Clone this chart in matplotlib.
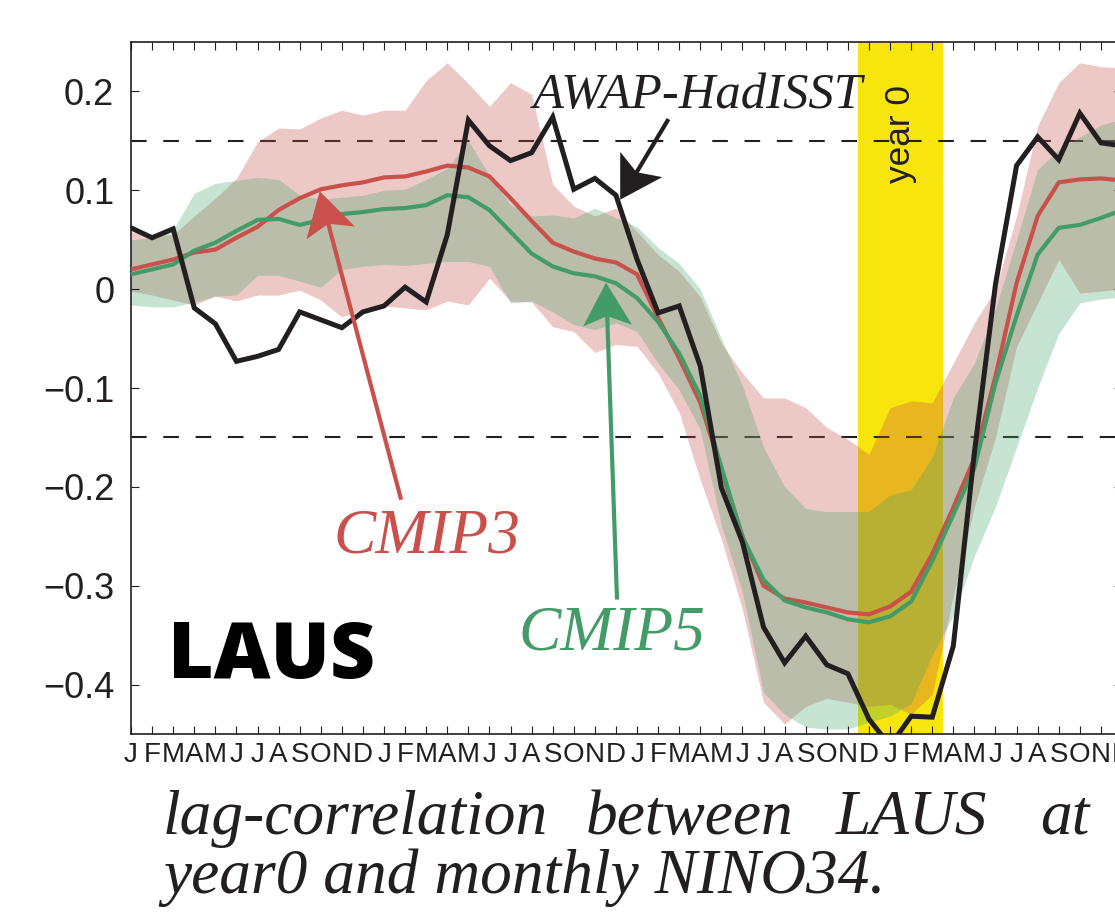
import matplotlib
matplotlib.use("Agg")
import matplotlib.pyplot as plt
from matplotlib import font_manager as fm
from matplotlib.patches import Polygon
from matplotlib.transforms import IdentityTransform
import numpy as np

# ---------------- data ----------------
month_labels = ["J", "F", "M", "A", "M", "J", "J", "A", "S", "O", "N", "D"] * 4
months = list(range(48))

awap_hadisst = [0.062, 0.052, 0.061, -0.019, -0.035, -0.073, -0.068, -0.061, -0.023, -0.031,
                -0.039, -0.023, -0.017, 0.002, -0.013, 0.055, 0.171, 0.145, 0.130, 0.138,
                0.174, 0.101, 0.112, 0.095, 0.030, -0.024, -0.017, -0.078, -0.201, -0.256,
                -0.342, -0.378, -0.351, -0.380, -0.389, -0.435, -0.462, -0.432, -0.433, -0.361,
                -0.165, 0.005, 0.125, 0.154, 0.131, 0.178, 0.148, 0.145]

cmip3_mean = [0.020, 0.025, 0.030, 0.037, 0.040, 0.052, 0.063, 0.080, 0.092, 0.101,
              0.105, 0.108, 0.113, 0.114, 0.119, 0.125, 0.123, 0.114, 0.092, 0.069,
              0.047, 0.038, 0.031, 0.027, 0.015, -0.029, -0.070, -0.115, -0.183, -0.250,
              -0.300, -0.313, -0.317, -0.322, -0.327, -0.329, -0.321, -0.306, -0.268, -0.221,
              -0.171, -0.088, 0.006, 0.074, 0.108, 0.111, 0.112, 0.110]

cmip3_high = [0.058, 0.055, 0.055, 0.074, 0.092, 0.112, 0.149, 0.163, 0.162, 0.173,
              0.181, 0.176, 0.181, 0.181, 0.211, 0.229, 0.208, 0.185, 0.209, 0.197,
              0.106, 0.084, 0.074, 0.082, 0.058, 0.035, 0.018, -0.008, -0.055, -0.085,
              -0.110, -0.110, -0.120, -0.140, -0.152, -0.167, -0.120, -0.113, -0.115, -0.075,
              -0.034, 0.000, 0.074, 0.165, 0.209, 0.229, 0.225, 0.224]

cmip3_low = [-0.002, -0.006, -0.011, -0.016, -0.007, -0.012, -0.006, -0.006, -0.001, -0.011,
             -0.028, -0.021, -0.017, -0.019, -0.021, -0.012, -0.016, 0.011, -0.012, -0.013,
             -0.038, -0.043, -0.064, -0.056, -0.058, -0.085, -0.125, -0.193, -0.253, -0.324,
             -0.418, -0.440, -0.422, -0.414, -0.418, -0.422, -0.420, -0.430, -0.410, -0.310,
             -0.220, -0.150, -0.058, -0.014, 0.030, -0.004, -0.002, 0.000]

cmip5_mean = [0.015, 0.020, 0.025, 0.039, 0.047, 0.059, 0.070, 0.071, 0.065, 0.070,
              0.076, 0.078, 0.081, 0.082, 0.085, 0.095, 0.093, 0.080, 0.058, 0.036,
              0.023, 0.016, 0.013, 0.006, -0.009, -0.033, -0.065, -0.108, -0.180, -0.251,
              -0.294, -0.315, -0.322, -0.327, -0.334, -0.337, -0.331, -0.316, -0.275, -0.228,
              -0.181, -0.095, -0.027, 0.035, 0.062, 0.065, 0.072, 0.080]

cmip5_high = [0.050, 0.052, 0.060, 0.097, 0.107, 0.110, 0.113, 0.111, 0.095, 0.091,
              0.093, 0.095, 0.100, 0.101, 0.111, 0.122, 0.150, 0.115, 0.085, 0.074,
              0.075, 0.072, 0.082, 0.072, 0.063, 0.042, 0.026, 0.000, -0.050, -0.098,
              -0.160, -0.200, -0.222, -0.225, -0.225, -0.225, -0.208, -0.203, -0.170, -0.110,
              -0.075, -0.020, 0.050, 0.121, 0.141, 0.154, 0.166, 0.172]

cmip5_low = [-0.016, -0.018, -0.018, -0.013, -0.007, -0.006, 0.014, 0.014, 0.008, 0.002,
             0.020, 0.023, 0.025, 0.024, 0.026, 0.028, 0.028, 0.023, -0.014, -0.012,
             -0.023, -0.036, -0.041, -0.034, -0.043, -0.075, -0.102, -0.142, -0.239, -0.307,
             -0.408, -0.430, -0.443, -0.445, -0.445, -0.438, -0.432, -0.419, -0.370, -0.330,
             -0.270, -0.220, -0.160, -0.100, -0.045, -0.014, -0.010, -0.008]

year0_span = [34.5, 38.5]
significance = [0.15, -0.15]
yticks = [-0.4, -0.3, -0.2, -0.1, 0.0, 0.1, 0.2]
ytick_labels = ["\u22120.4", "\u22120.3", "\u22120.2", "\u22120.1", "0", "0.1", "0.2"]

# ---------------- fonts ----------------
def pick(names):
    for n in names:
        try:
            fm.findfont(fm.FontProperties(family=n), fallback_to_default=False)
            return n
        except Exception:
            pass
    return "DejaVu Sans"

SANS = pick(["Liberation Sans", "Arial", "DejaVu Sans"])
NARROW = pick(["Liberation Sans Narrow", "Liberation Sans", "DejaVu Sans"])
SERIF = pick(["Liberation Serif", "DejaVu Serif"])
BOLD = pick(["Open Sans", "Lato", "DejaVu Sans"])

RED = "#c34b48"
GREEN = "#47a46a"
REDLINE = "#c9504b"
GREENLINE = "#439b68"
BLACK = "#231f20"
YELLOW = "#f8e50e"

W, H = 1115, 918
fig = plt.figure(figsize=(W / 100, H / 100), dpi=100)
ax = fig.add_axes([131 / W, 1 - 734 / H, (1122 - 131) / W, (734 - 42) / H])

ax.axvspan(year0_span[0], year0_span[1], color=YELLOW, lw=0, zorder=0)
for s in significance:
    ax.axhline(s, color=BLACK, lw=1.5, ls=(0, (7.5, 8)), zorder=0.5)

ax.fill_between(months, cmip3_low, cmip3_high, color=RED, alpha=0.3, lw=0, zorder=1)
ax.fill_between(months, cmip5_low, cmip5_high, color=GREEN, alpha=0.3, lw=0, zorder=1.1)

ax.plot(months, cmip3_mean, color=REDLINE, lw=3, zorder=3, solid_joinstyle="miter")
ax.plot(months, cmip5_mean, color=GREENLINE, lw=3, zorder=4, solid_joinstyle="miter")
ax.plot(months, awap_hadisst, color=BLACK, lw=3.6, zorder=5, solid_joinstyle="miter")

ax.set_xlim(0, 47)
ax.set_ylim(-0.45, 0.25)
ax.set_xticks(months)
ax.set_xticklabels(month_labels, fontfamily=NARROW, fontsize=20, color=BLACK)
ax.set_yticks(yticks)
ax.set_yticklabels(ytick_labels, fontfamily=SANS, fontsize=26, color=BLACK)
ax.tick_params(axis="both", direction="in", length=5.8, width=0.8, color=BLACK,
               top=True, right=True)
ax.tick_params(axis="x", pad=6)
ax.tick_params(axis="y", pad=12)
for sp in ax.spines.values():
    sp.set_linewidth(1.2)
    sp.set_color(BLACK)

renderer = fig.canvas.get_renderer()

def fit(t, target, dim="w"):
    for _ in range(3):
        bb = t.get_window_extent(renderer)
        cur = bb.width if dim == "w" else bb.height
        t.set_fontsize(t.get_fontsize() * target / cur)
    return t

# year 0 label
t = ax.text(36.48, 0.157, "year 0", rotation=90, ha="center", va="center",
            fontfamily=SANS, fontsize=26, color=BLACK, zorder=2)
fit(t, 98, "h")

# annotation arrows with notched heads (head drawn in pixel space)
def arrow(tip, tail, color, lw=3, length=42, half=24.5, notch=0.78):
    p_tip = ax.transData.transform(tip)
    p_tail = ax.transData.transform(tail)
    d = p_tip - p_tail
    u = d / np.hypot(*d)
    n = np.array([-u[1], u[0]])
    base = p_tip - length * u
    c1 = base + half * n
    c2 = base - half * n
    nt = p_tip - notch * length * u
    head = Polygon([p_tip, c1, nt, c2], closed=True, transform=IdentityTransform(),
                   facecolor=color, edgecolor="none", zorder=6)
    ax.add_artist(head)
    shaft_end = ax.transData.inverted().transform(nt + 2 * u)
    ax.plot([tail[0], shaft_end[0]], [tail[1], shaft_end[1]], color=color, lw=lw,
            solid_capstyle="butt", zorder=6, clip_on=False)

arrow((23.2, 0.0905), (25.49, 0.172), BLACK, lw=3, length=41)
arrow((8.95, 0.099), (12.81, -0.213), REDLINE, lw=3, length=43, half=25)
arrow((22.53, 0.0066), (23.05, -0.314), GREENLINE, lw=3, length=43, half=24.5)

t = ax.text(26.9, 0.1835, "AWAP-HadISST", ha="center", va="baseline",
            fontfamily=SERIF, style="italic", fontsize=36, color=BLACK, zorder=7)
fit(t, 330)
t = ax.text(14.02, -0.2664, "CMIP3", ha="center", va="baseline",
            fontfamily=SERIF, style="italic", fontsize=45, color=REDLINE, zorder=7)
fit(t, 187)
t = ax.text(22.8, -0.3645, "CMIP5", ha="center", va="baseline",
            fontfamily=SERIF, style="italic", fontsize=45, color=GREENLINE, zorder=7)
fit(t, 187)

t = fig.text(168 / W, 1 - 678 / H, "LAUS", ha="left", va="baseline",
             fontfamily=BOLD, fontweight="heavy", fontsize=58, color="black")
fit(t, 207)

# caption
t0 = fig.text(163 / W, 1 - 834 / H, "lag-correlation", ha="left", va="baseline",
              fontfamily=SERIF, style="italic", fontsize=44, color=BLACK)
fit(t0, 385)
fs = t0.get_fontsize()
for word, x in [("between", 586), ("LAUS", 836), ("at", 1040)]:
    fig.text(x / W, 1 - 834 / H, word, ha="left", va="baseline",
             fontfamily=SERIF, style="italic", fontsize=fs, color=BLACK)
fig.text(163 / W, 1 - 893 / H, "year0 and monthly NINO34.", ha="left", va="baseline",
         fontfamily=SERIF, style="italic", fontsize=fs, color=BLACK)

fig.savefig("out.png", dpi=100)
